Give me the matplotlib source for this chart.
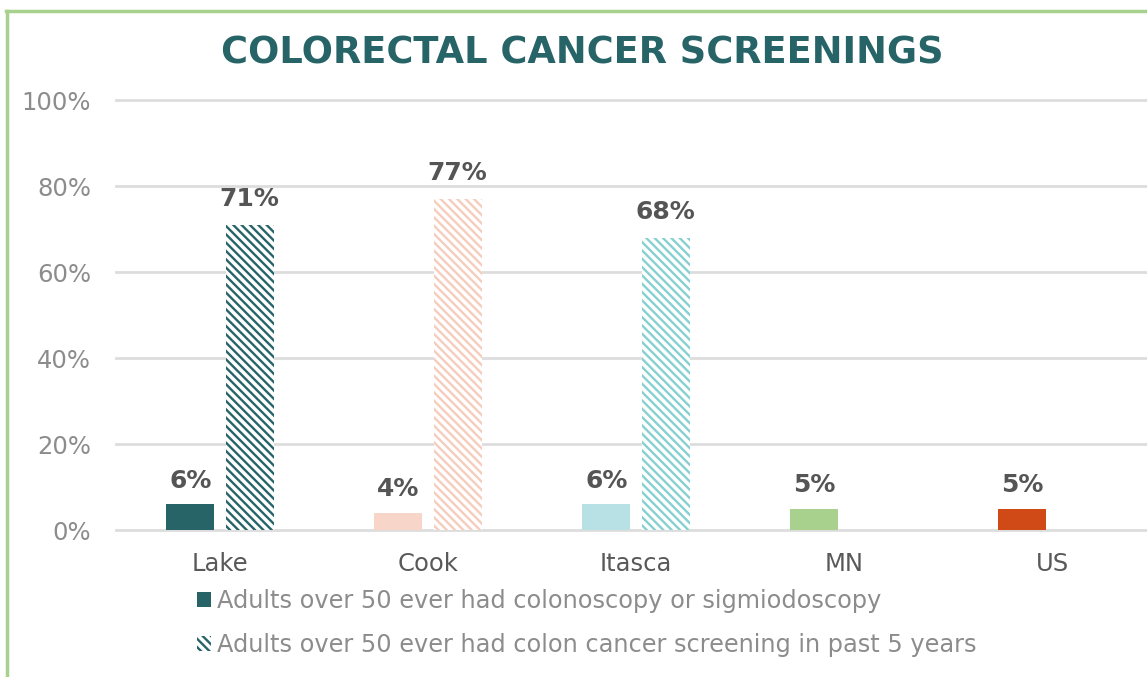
import matplotlib.pyplot as plt
from matplotlib.patches import Patch
from matplotlib.lines import Line2D

# data
categories = ['Lake', 'Cook', 'Itasca', 'MN', 'US']
ever_scope = [6, 4, 6, 5, 5]
past_5yrs = [71, 77, 68, None, None]
series_names = ['Adults over 50 ever had colonoscopy or sigmiodoscopy',
                'Adults over 50 ever had colon cancer screening in past 5 years']

solid_colors = ['#276468', '#F8D5C9', '#B7E1E4', '#A9D18E', '#D04A17']
hatch_colors = ['#276468', '#F6CDBD', '#86D0D1']

teal = '#276468'
grid_gray = '#DDDDDD'
label_gray = '#555555'
tick_gray = '#8C8C8C'

plt.rcParams['font.family'] = 'DejaVu Sans'
plt.rcParams['hatch.linewidth'] = 1.7

W, H = 1147, 677
fig = plt.figure(figsize=(W / 100, H / 100), dpi=100)
ax = fig.add_axes([116 / W, 147 / H, 1040 / W, 430 / H])

bw = 0.231
off = 0.142
for i, cat in enumerate(categories):
    v = ever_scope[i]
    ax.bar(i - off, v, bw, color=solid_colors[i], linewidth=0, zorder=3)
    ax.annotate(f'{v}%', (i - off, v), xytext=(0, 17), textcoords='offset points',
                ha='center', va='center', fontsize=18, fontweight='bold', color=label_gray)
    v2 = past_5yrs[i]
    if v2 is not None:
        ax.bar(i + off, v2, bw, facecolor='white', edgecolor=hatch_colors[i],
               linewidth=0, hatch='\\\\\\\\', zorder=3)
        ax.annotate(f'{v2}%', (i + off, v2), xytext=(0, 18.5), textcoords='offset points',
                    ha='center', va='center', fontsize=18, fontweight='bold', color=label_gray)

ax.set_xlim(-0.5, len(categories) - 0.5)
ax.set_ylim(0, 100)
ax.set_yticks(range(0, 101, 20))
ax.set_yticklabels([f'{t}%' for t in range(0, 101, 20)])
ax.set_xticks(range(len(categories)))
ax.set_xticklabels(categories)
ax.tick_params(axis='y', length=0, pad=18, labelsize=17.5, labelcolor=tick_gray)
ax.tick_params(axis='x', length=0, pad=16, labelsize=17.5, labelcolor='#595959')
ax.yaxis.grid(True, color=grid_gray, linewidth=2.0, zorder=0)
for gl in ax.get_ygridlines():
    gl.set_clip_on(False)
ax.set_axisbelow(True)
for s in ax.spines.values():
    s.set_visible(False)

fig.text(0.508, 0.921, 'COLORECTAL CANCER SCREENINGS', ha='center', va='center',
         fontsize=26.5, fontweight='bold', color=teal)

handles = [Patch(facecolor=teal, linewidth=0),
           Patch(facecolor='white', edgecolor=teal, linewidth=0, hatch='\\\\\\\\')]
fig.legend(handles, series_names, loc='upper left', bbox_to_anchor=(197 / W, 1 - 589 / H),
           frameon=False, fontsize=17.3, labelcolor=tick_gray, handlelength=0.6,
           handleheight=0.6, handletextpad=0.25, labelspacing=0.82, borderpad=0,
           borderaxespad=0)

# green frame around the chart
fig.add_artist(Line2D([6.5 / W, 6.5 / W], [0, 1 - 10.5 / H], color='#A9D18E', linewidth=2.5,
                      transform=fig.transFigure))
fig.add_artist(Line2D([5.5 / W, 1], [1 - 10.5 / H, 1 - 10.5 / H], color='#A9D18E', linewidth=2.5,
                      transform=fig.transFigure))

plt.savefig('out.png')
